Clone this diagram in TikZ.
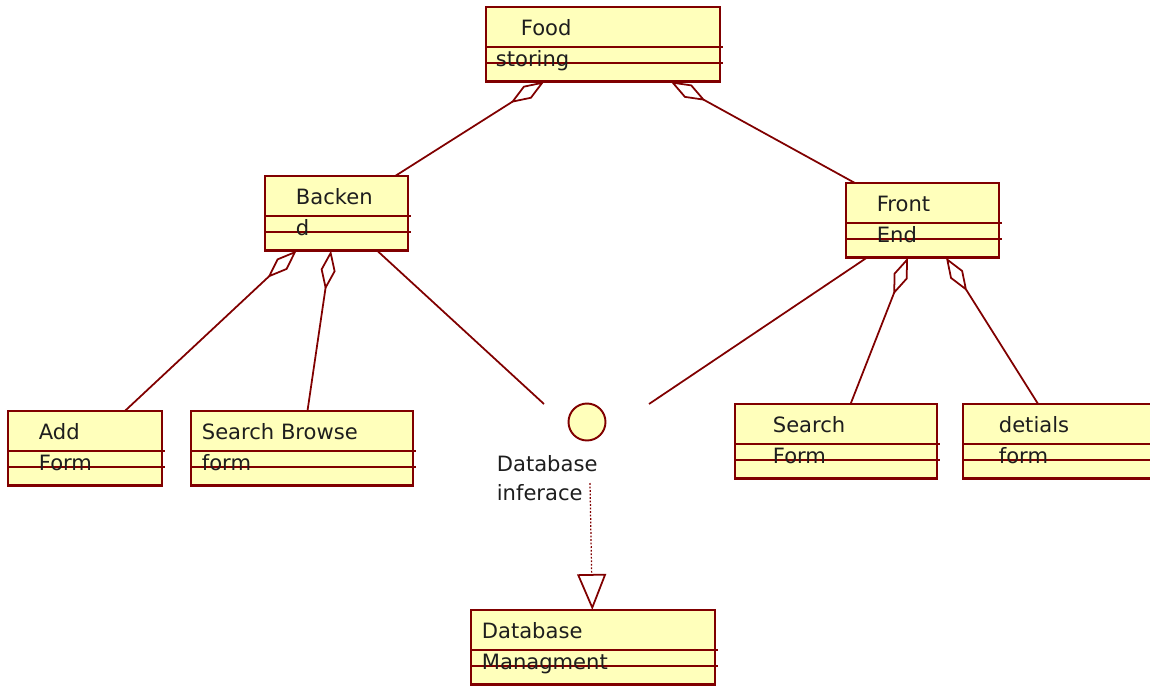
\documentclass[tikz,border=0pt]{standalone}
\usepackage{fontspec}
\setmainfont{DejaVu Sans}
\usetikzlibrary{positioning, arrows.meta, fit}

\definecolor{roseline}{RGB}{128,0,0}
\definecolor{rosefill}{RGB}{255,255,187}
\definecolor{rosetext}{RGB}{30,30,30}

% クラスの箱（名前, 左x, 上y, 幅, 字下げ1, 字下げ2, 1行目, 2行目）
\newcommand{\umlklass}[8]{%
    \node [klass, fit={(#2,#3) (#2+#4,#3+74.5)}] (#1) {};
    \draw [klassrule] (#2,#3+40) -- (#2+#4+3,#3+40);
    \draw [klassrule] (#2,#3+56) -- (#2+#4+3,#3+56);
    \node [klasstext] at (#2+#5,#3+28) {#7};
    \node [klasstext] at (#2+#6,#3+59) {#8};
}

\begin{document}
\begin{tikzpicture}[
    x=0.02cm, y=-0.02cm,    % 1px = 0.02cm（画像の座標をそのまま使う）
    line width=1pt,
    font=\fontsize{12pt}{14pt}\selectfont,
    klass/.style={draw=roseline, fill=rosefill, line width=1.3pt, inner sep=0pt, outer sep=0pt},
    klassrule/.style={draw=roseline, line width=1.1pt},
    klasstext/.style={anchor=base west, inner sep=0pt, text=rosetext},
    aggr/.style={draw=roseline, -{Diamond[open, length=0.8cm, width=0.3cm]}},
    assoc/.style={draw=roseline},
    realize/.style={draw=roseline, line width=0.7pt, dash pattern=on 1pt off 1pt,
        -{Triangle[open, length=0.72cm, width=0.58cm, line width=1pt]}}
]

    \useasboundingbox (0,0) rectangle (1150,687);
    \clip (0,0) rectangle (1150,687);

    % --- 1. クラスの箱 ---
    \umlklass{food}{486}{7}{234}{34}{9}{Food}{storing}
    \umlklass{backen}{265}{176}{143}{30}{30}{Backen}{d}
    \umlklass{front}{846}{183}{153}{30}{30}{Front}{End}
    \umlklass{add}{8}{411}{154}{30}{30}{Add}{Form}
    \umlklass{browse}{191}{411}{222}{10}{10}{Search Browse}{form}
    \umlklass{search}{735}{404}{202}{37}{37}{Search}{Form}
    \umlklass{detials}{963}{404}{197}{35}{35}{detials}{form}
    \umlklass{dbm}{471}{610}{244}{10}{10}{Database}{Managment}

    % --- 2. インターフェース（丸）とラベル ---
    \node [circle, draw=roseline, fill=rosefill, line width=1.1pt, minimum size=0.74cm, inner sep=0pt] (dbif) at (587,422) {};
    \node [klasstext] (dbiflabel) at (496,471) {Database};
    \node [klasstext] (dbiflabel2) at (496,500) {inferace};

    % 線の自由端
    \coordinate (ifcL) at (544,404);
    \coordinate (ifcR) at (649,404);
    \coordinate (ifcdep) at (590,483);

    % --- 3. 集約（ひし形）の線 ---
    \draw [aggr] (backen) -- (food);
    \draw [aggr] (front) -- (food);
    \draw [aggr] (add) -- (backen);
    \draw [aggr] (browse) -- (backen);
    \draw [aggr] (search) -- (front);
    \draw [aggr] (detials) -- (front);

    % --- 4. インターフェースへの線と実現の矢印 ---
    \draw [assoc] (backen) -- (ifcL);
    \draw [assoc] (front) -- (ifcR);
    \draw [realize] (ifcdep) -- (dbm);

\end{tikzpicture}
\end{document}
